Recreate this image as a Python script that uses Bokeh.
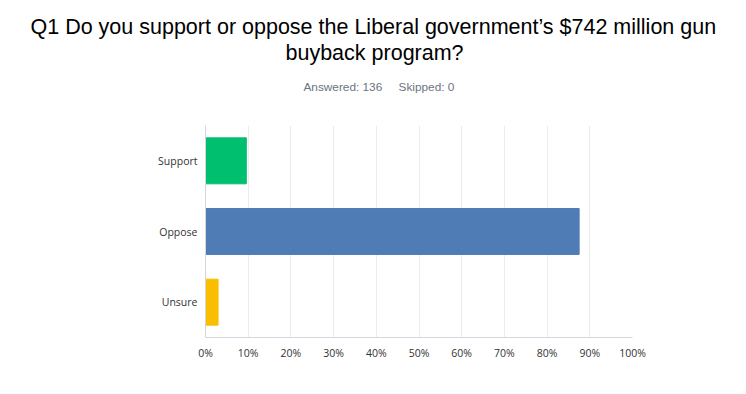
from bokeh.plotting import figure
from bokeh.models import Range1d, FixedTicker, PrintfTickFormatter, Title
from bokeh.embed import file_html
from bokeh.resources import INLINE

categories = ["Support", "Oppose", "Unsure"]
counts = [13, 119, 4]
total_answered = 136
skipped = 0
colors = ["#00BF6F", "#507CB6", "#F9BE00"]
x_ticks = [0, 10, 20, 30, 40, 50, 60, 70, 80, 90, 100]
title_lines = ["Q1 Do you support or oppose the Liberal government\u2019s $742 million gun",
               "buyback program?"]

percents = [c / total_answered * 100 for c in counts]

W, H = 730, 378
p = figure(width=W, height=H, y_range=list(reversed(categories)),
           x_range=Range1d(0, 100), output_backend="svg", toolbar_location=None,
           min_border_left=205, min_border_right=98, min_border_top=125,
           min_border_bottom=41)
p.hbar(y=categories, right=percents, left=0, height=0.65, color=colors)

p.outline_line_color = None
p.ygrid.grid_line_color = None
p.xgrid.grid_line_color = "#ececec"
p.xaxis.ticker = FixedTicker(ticks=x_ticks)
p.xaxis.formatter = PrintfTickFormatter(format="%d%%")
for ax in (p.xaxis, p.yaxis):
    ax.major_tick_line_color = None
    ax.minor_tick_line_color = None
    ax.major_tick_out = 0
    ax.major_tick_in = 0
    ax.axis_line_color = "#d6d6dc"
    ax.major_label_text_font = "Open Sans"
    ax.major_label_text_font_size = "10.5px"
    ax.major_label_text_color = "#333333"
    ax.major_label_standoff = 8

# spacer between the plot frame and the subtitle
p.add_layout(Title(text="\u00a0", align="left", standoff=15.5,
                   text_font_size="1px", text_color="#ffffff"), "above")
gap = "\u00a0" * 5
p.add_layout(Title(text=f"Answered: {total_answered}{gap}Skipped: {skipped}",
                   align="left", offset=98, standoff=26,
                   text_font="Liberation Sans", text_font_size="11.8px",
                   text_font_style="normal", text_color="#6b7480"), "above")
p.add_layout(Title(text=title_lines[1], align="left", offset=80, standoff=0,
                   text_font="Liberation Sans", text_font_size="21.5px",
                   text_font_style="normal", text_color="#000000"), "above")
p.add_layout(Title(text=title_lines[0], align="left", offset=-175, standoff=0,
                   text_font="Liberation Sans", text_font_size="21.5px",
                   text_font_style="normal", text_color="#000000"), "above")

open("out.html", "w").write(file_html(p, INLINE))
